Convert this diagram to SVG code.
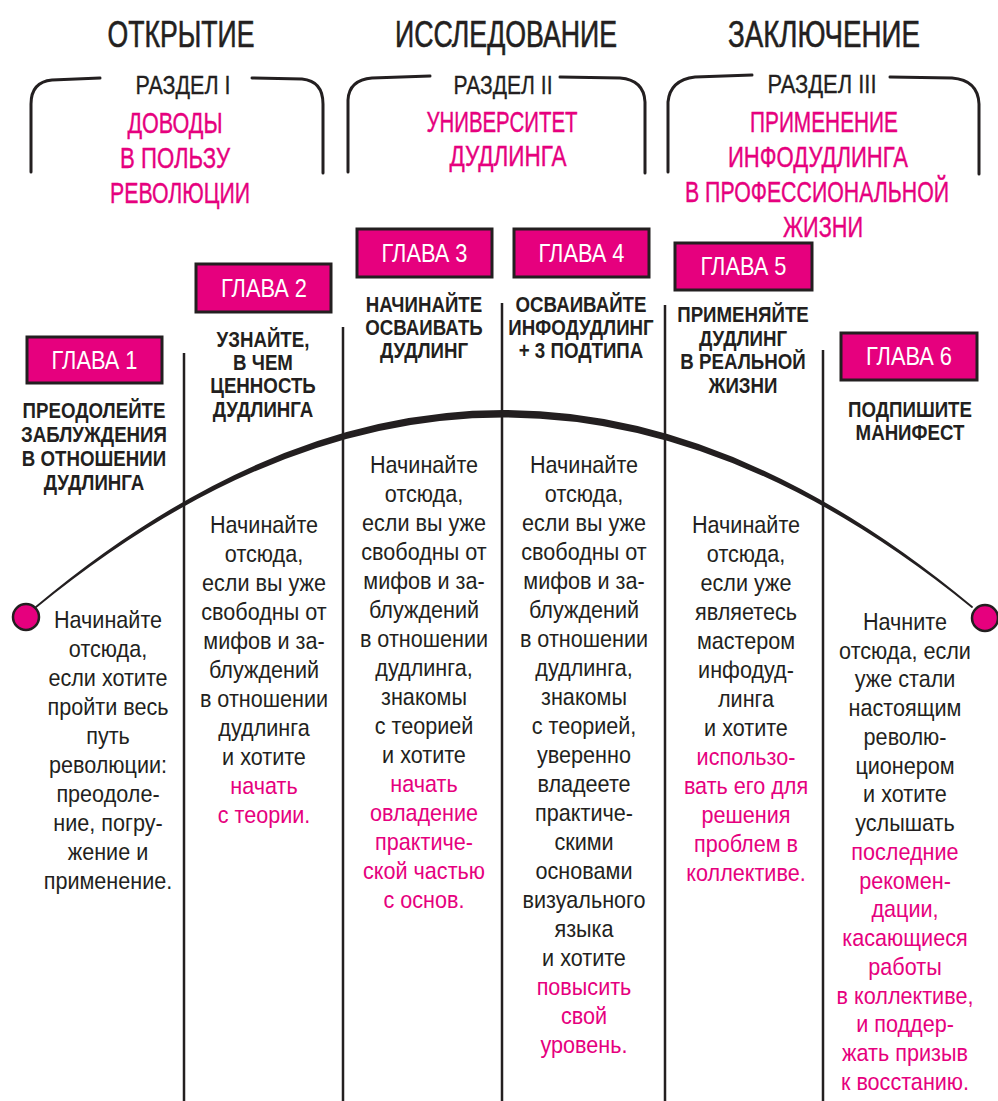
<svg xmlns="http://www.w3.org/2000/svg" width="998" height="1101" viewBox="0 0 998 1101">
<style>
.hd{font-family:"Liberation Sans",Arial,sans-serif;font-size:37px;fill:#231f20;stroke:#231f20;stroke-width:0.6;text-anchor:middle}
.sec{font-family:"Liberation Sans",Arial,sans-serif;font-size:25px;fill:#231f20;stroke:#231f20;stroke-width:0.3;text-anchor:middle}
.pk{font-family:"Liberation Sans",Arial,sans-serif;font-size:29px;fill:#e6007e;stroke:#e6007e;stroke-width:0.4;text-anchor:middle}
.brk{fill:none;stroke:#231f20;stroke-width:3;stroke-linecap:round;stroke-linejoin:round}
.box{fill:#e6007e;stroke:#231f20;stroke-width:3}
.bl{font-family:"Liberation Sans",Arial,sans-serif;font-size:25px;fill:#ffffff;text-anchor:middle}
.ct{font-family:"Liberation Sans",Arial,sans-serif;font-size:22px;font-weight:bold;fill:#231f20;text-anchor:middle}
.bd{font-family:"Liberation Sans",Arial,sans-serif;font-size:24px;fill:#231f20;text-anchor:middle}
.bd .p{fill:#e6007e}
.vl{stroke:#231f20;stroke-width:2.5;fill:none}
.dot{fill:#e6007e;stroke:#231f20;stroke-width:2.5}
</style>

<g id="header-opening"><text class="hd" x="181" y="47" textLength="147" lengthAdjust="spacingAndGlyphs">ОТКРЫТИЕ</text></g>
<g id="header-research"><text class="hd" x="506" y="47" textLength="222" lengthAdjust="spacingAndGlyphs">ИССЛЕДОВАНИЕ</text></g>
<g id="header-conclusion"><text class="hd" x="824" y="47" textLength="192" lengthAdjust="spacingAndGlyphs">ЗАКЛЮЧЕНИЕ</text></g>

<g id="section-1">
<path class="brk" d="M31 172 L31 104 Q31 82 52 80 L100 78"/>
<path class="brk" d="M252 78 L302 79 Q323 81 323 104 L323 173"/>
<text class="sec" x="183" y="94" textLength="95" lengthAdjust="spacingAndGlyphs">РАЗДЕЛ I</text>
<text class="pk" x="175" y="133" textLength="95" lengthAdjust="spacingAndGlyphs">ДОВОДЫ</text>
<text class="pk" x="175" y="168" textLength="110" lengthAdjust="spacingAndGlyphs">В ПОЛЬЗУ</text>
<text class="pk" x="180" y="203" textLength="140" lengthAdjust="spacingAndGlyphs">РЕВОЛЮЦИИ</text>
</g>
<g id="section-2">
<path class="brk" d="M348 172 L348 100 Q349 80 372 78 L430 76"/>
<path class="brk" d="M560 77 L620 78 Q644 80 645 102 L645 173"/>
<text class="sec" x="503" y="94" textLength="99" lengthAdjust="spacingAndGlyphs">РАЗДЕЛ II</text>
<text class="pk" x="502" y="132" textLength="151" lengthAdjust="spacingAndGlyphs">УНИВЕРСИТЕТ</text>
<text class="pk" x="508" y="166" textLength="117" lengthAdjust="spacingAndGlyphs">ДУДЛИНГА</text>
</g>
<g id="section-3">
<path class="brk" d="M668 172 L668 102 Q670 80 695 77 L752 75"/>
<path class="brk" d="M890 77 L952 78 Q978 80 979 104 L979 174"/>
<text class="sec" x="822" y="93" textLength="109" lengthAdjust="spacingAndGlyphs">РАЗДЕЛ III</text>
<text class="pk" x="824" y="132" textLength="148" lengthAdjust="spacingAndGlyphs">ПРИМЕНЕНИЕ</text>
<text class="pk" x="818" y="167" textLength="180" lengthAdjust="spacingAndGlyphs">ИНФОДУДЛИНГА</text>
<g transform="translate(817 0) scale(0.735 1)"><text class="pk" x="0" y="202">В ПРОФЕССИОНАЛЬНОЙ</text></g>
<text class="pk" x="823" y="237" textLength="80" lengthAdjust="spacingAndGlyphs">ЖИЗНИ</text>
</g>

<g id="connectors">
<line class="vl" x1="184" y1="353" x2="184" y2="1101"/>
<line class="vl" x1="343" y1="327" x2="343" y2="1101"/>
<line class="vl" x1="502" y1="303" x2="502" y2="1101"/>
<line class="vl" x1="665" y1="305" x2="665" y2="1101"/>
<line class="vl" x1="823" y1="350" x2="823" y2="1101"/>
<path d="M36 607 Q503 215 972 607 Q503 226 36 607 Z" fill="#231f20" stroke="#231f20" stroke-width="1.8" stroke-linejoin="round"/>
<circle class="dot" cx="26" cy="617" r="13"/>
<circle class="dot" cx="985" cy="618" r="13"/>
</g>

<g id="chapter-1">
<rect class="box" x="27" y="337" width="135" height="46"/>
<text class="bl" x="94.5" y="369" textLength="86" lengthAdjust="spacingAndGlyphs">ГЛАВА 1</text>
<g transform="translate(94 0) scale(0.85 1)">
<text class="ct" x="0" y="418">ПРЕОДОЛЕЙТЕ</text>
<text class="ct" x="0" y="442">ЗАБЛУЖДЕНИЯ</text>
<text class="ct" x="0" y="466">В ОТНОШЕНИИ</text>
<text class="ct" x="0" y="490">ДУДЛИНГА</text>
</g>
<g class="bd" transform="translate(108 0) scale(0.9 1)">
<text class="bd" x="0" y="628">Начинайте</text>
<text class="bd" x="0" y="657">отсюда,</text>
<text class="bd" x="0" y="686">если хотите</text>
<text class="bd" x="0" y="715">пройти весь</text>
<text class="bd" x="0" y="744">путь</text>
<text class="bd" x="0" y="773">революции:</text>
<text class="bd" x="0" y="802">преодоле-</text>
<text class="bd" x="0" y="831">ние, погру-</text>
<text class="bd" x="0" y="860">жение и</text>
<text class="bd" x="0" y="889">применение.</text>
</g>
</g>

<g id="chapter-2">
<rect class="box" x="196" y="264" width="135" height="48"/>
<text class="bl" x="264" y="297" textLength="86" lengthAdjust="spacingAndGlyphs">ГЛАВА 2</text>
<g transform="translate(263 0) scale(0.85 1)">
<text class="ct" x="0" y="347">УЗНАЙТЕ,</text>
<text class="ct" x="0" y="370">В ЧЕМ</text>
<text class="ct" x="0" y="393">ЦЕННОСТЬ</text>
<text class="ct" x="0" y="417">ДУДЛИНГА</text>
</g>
<g class="bd" transform="translate(264 0) scale(0.9 1)">
<text class="bd" x="0" y="533">Начинайте</text>
<text class="bd" x="0" y="562">отсюда,</text>
<text class="bd" x="0" y="591">если вы уже</text>
<text class="bd" x="0" y="620">свободны от</text>
<text class="bd" x="0" y="649">мифов и за-</text>
<text class="bd" x="0" y="678">блуждений</text>
<text class="bd" x="0" y="707">в отношении</text>
<text class="bd" x="0" y="736">дудлинга</text>
<text class="bd" x="0" y="765">и хотите</text>
<text class="bd p" x="0" y="794">начать</text>
<text class="bd p" x="0" y="823">с теории.</text>
</g>
</g>

<g id="chapter-3">
<rect class="box" x="357" y="229" width="135" height="48"/>
<text class="bl" x="424.5" y="262" textLength="86" lengthAdjust="spacingAndGlyphs">ГЛАВА 3</text>
<g transform="translate(424 0) scale(0.85 1)">
<text class="ct" x="0" y="312">НАЧИНАЙТЕ</text>
<text class="ct" x="0" y="335">ОСВАИВАТЬ</text>
<text class="ct" x="0" y="358">ДУДЛИНГ</text>
</g>
<g class="bd" transform="translate(424 0) scale(0.9 1)">
<text class="bd" x="0" y="473">Начинайте</text>
<text class="bd" x="0" y="502">отсюда,</text>
<text class="bd" x="0" y="531">если вы уже</text>
<text class="bd" x="0" y="560">свободны от</text>
<text class="bd" x="0" y="589">мифов и за-</text>
<text class="bd" x="0" y="618">блуждений</text>
<text class="bd" x="0" y="647">в отношении</text>
<text class="bd" x="0" y="676">дудлинга,</text>
<text class="bd" x="0" y="705">знакомы</text>
<text class="bd" x="0" y="734">с теорией</text>
<text class="bd" x="0" y="763">и хотите</text>
<text class="bd p" x="0" y="792">начать</text>
<text class="bd p" x="0" y="821">овладение</text>
<text class="bd p" x="0" y="850">практиче-</text>
<text class="bd p" x="0" y="879">ской частью</text>
<text class="bd p" x="0" y="908">с основ.</text>
</g>
</g>

<g id="chapter-4">
<rect class="box" x="514" y="229" width="135" height="48"/>
<text class="bl" x="581.5" y="262" textLength="86" lengthAdjust="spacingAndGlyphs">ГЛАВА 4</text>
<g transform="translate(581 0) scale(0.85 1)">
<text class="ct" x="0" y="312">ОСВАИВАЙТЕ</text>
<text class="ct" x="0" y="335">ИНФОДУДЛИНГ</text>
<text class="ct" x="0" y="358">+ 3 ПОДТИПА</text>
</g>
<g class="bd" transform="translate(584 0) scale(0.9 1)">
<text class="bd" x="0" y="473">Начинайте</text>
<text class="bd" x="0" y="502">отсюда,</text>
<text class="bd" x="0" y="531">если вы уже</text>
<text class="bd" x="0" y="560">свободны от</text>
<text class="bd" x="0" y="589">мифов и за-</text>
<text class="bd" x="0" y="618">блуждений</text>
<text class="bd" x="0" y="647">в отношении</text>
<text class="bd" x="0" y="676">дудлинга,</text>
<text class="bd" x="0" y="705">знакомы</text>
<text class="bd" x="0" y="734">с теорией,</text>
<text class="bd" x="0" y="763">уверенно</text>
<text class="bd" x="0" y="792">владеете</text>
<text class="bd" x="0" y="821">практиче-</text>
<text class="bd" x="0" y="850">скими</text>
<text class="bd" x="0" y="879">основами</text>
<text class="bd" x="0" y="908">визуального</text>
<text class="bd" x="0" y="937">языка</text>
<text class="bd" x="0" y="966">и хотите</text>
<text class="bd p" x="0" y="995">повысить</text>
<text class="bd p" x="0" y="1024">свой</text>
<text class="bd p" x="0" y="1053">уровень.</text>
</g>
</g>

<g id="chapter-5">
<rect class="box" x="675" y="243" width="137" height="47"/>
<text class="bl" x="743.5" y="275" textLength="86" lengthAdjust="spacingAndGlyphs">ГЛАВА 5</text>
<g transform="translate(743 0) scale(0.85 1)">
<text class="ct" x="0" y="322">ПРИМЕНЯЙТЕ</text>
<text class="ct" x="0" y="346">ДУДЛИНГ</text>
<text class="ct" x="0" y="369">В РЕАЛЬНОЙ</text>
<text class="ct" x="0" y="393">ЖИЗНИ</text>
</g>
<g class="bd" transform="translate(746 0) scale(0.9 1)">
<text class="bd" x="0" y="533">Начинайте</text>
<text class="bd" x="0" y="562">отсюда,</text>
<text class="bd" x="0" y="591">если уже</text>
<text class="bd" x="0" y="620">являетесь</text>
<text class="bd" x="0" y="649">мастером</text>
<text class="bd" x="0" y="678">инфодуд-</text>
<text class="bd" x="0" y="707">линга</text>
<text class="bd" x="0" y="736">и хотите</text>
<text class="bd p" x="0" y="765">использо-</text>
<text class="bd p" x="0" y="794">вать его для</text>
<text class="bd p" x="0" y="823">решения</text>
<text class="bd p" x="0" y="852">проблем в</text>
<text class="bd p" x="0" y="881">коллективе.</text>
</g>
</g>

<g id="chapter-6">
<rect class="box" x="841" y="333" width="136" height="47"/>
<text class="bl" x="909" y="365" textLength="86" lengthAdjust="spacingAndGlyphs">ГЛАВА 6</text>
<g transform="translate(910 0) scale(0.85 1)">
<text class="ct" x="0" y="417">ПОДПИШИТЕ</text>
<text class="ct" x="0" y="440">МАНИФЕСТ</text>
</g>
<g class="bd" transform="translate(905 0) scale(0.9 1)">
<text class="bd" x="0" y="630">Начните</text>
<text class="bd" x="0" y="659">отсюда, если</text>
<text class="bd" x="0" y="687">уже стали</text>
<text class="bd" x="0" y="716">настоящим</text>
<text class="bd" x="0" y="745">револю-</text>
<text class="bd" x="0" y="774">ционером</text>
<text class="bd" x="0" y="802">и хотите</text>
<text class="bd" x="0" y="831">услышать</text>
<text class="bd p" x="0" y="860">последние</text>
<text class="bd p" x="0" y="889">рекомен-</text>
<text class="bd p" x="0" y="917">дации,</text>
<text class="bd p" x="0" y="946">касающиеся</text>
<text class="bd p" x="0" y="975">работы</text>
<text class="bd p" x="0" y="1004">в коллективе,</text>
<text class="bd p" x="0" y="1032">и поддер-</text>
<text class="bd p" x="0" y="1061">жать призыв</text>
<text class="bd p" x="0" y="1090">к восстанию.</text>
</g>
</g>
</svg>
